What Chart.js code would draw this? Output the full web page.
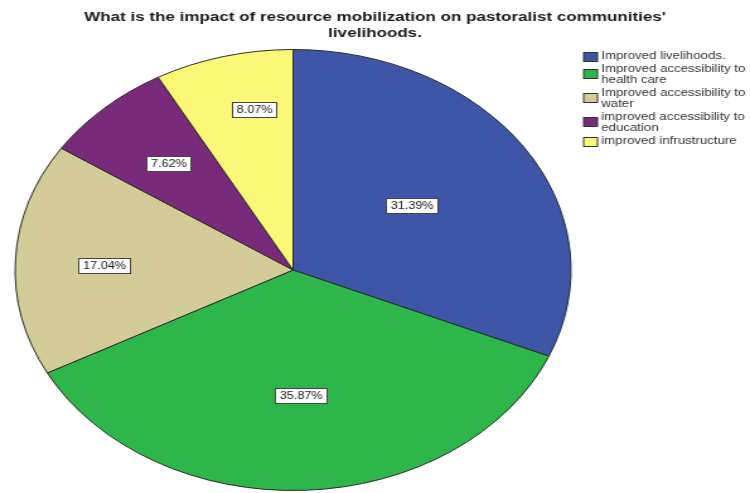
<!DOCTYPE html>
<html>
<head>
<meta charset="utf-8">
<script src="https://cdn.jsdelivr.net/npm/chart.js@4/dist/chart.umd.min.js"></script>
<style>
  html, body { margin: 0; padding: 0; background: #fff; overflow: hidden; }
  #wrap { width: 595px; height: 493px; transform-origin: 0 0; transform: scaleX(1.2605); }
</style>
</head>
<body>
<div id="wrap"><canvas id="chart" width="595" height="493"></canvas></div>
<script>
const categories = [
    ['Improved livelihoods.'],
    ['Improved accessibility to', 'health care'],
    ['Improved accessibility to', 'water'],
    ['improved accessibility to', 'education'],
    ['improved infrustructure']
];
const percents = [31.39, 35.87, 17.04, 7.62, 8.07];
const colors = ['#3d56a8', '#2db74a', '#d4cc98', '#7a2a7a', '#fcf877'];
// label placement: share of radius, and a small turn (degrees) off the slice middle
const labelDist = [0.517, 0.568, 0.68, 0.66, 0.74];
const labelTurn = [-1, -0.5, -1, 0, 3.6];

const FONT = '"Liberation Sans", Arial, sans-serif';
const LEGEND_SPACE = 130;

// keep the title centred on the full width, but leave room for the legend
const legendRoom = {
    id: 'legendRoom',
    afterLayout(chart) {
        chart.chartArea.right -= LEGEND_SPACE;
        chart.chartArea.width -= LEGEND_SPACE;
    }
};

// white boxed percentage labels
const boxLabels = {
    id: 'boxLabels',
    afterDatasetsDraw(chart) {
        const ctx = chart.ctx;
        const arcs = chart.getDatasetMeta(0).data;
        ctx.save();
        ctx.font = '10px ' + FONT;
        ctx.textAlign = 'center';
        ctx.textBaseline = 'middle';
        arcs.forEach(function(arc, i) {
            const p = arc.getProps(['x', 'y', 'startAngle', 'endAngle', 'outerRadius'], true);
            const mid = (p.startAngle + p.endAngle) / 2 + labelTurn[i] * Math.PI / 180;
            const r = p.outerRadius * labelDist[i];
            const x = p.x + Math.cos(mid) * r;
            const y = p.y + Math.sin(mid) * r;
            const text = percents[i].toFixed(2) + '%';
            const w = Math.round(ctx.measureText(text).width + 7);
            const h = 15;
            const bx = Math.round(x - w / 2) + 0.5;
            const by = Math.round(y - h / 2) + 0.5;
            ctx.fillStyle = '#ffffff';
            ctx.fillRect(bx, by, w, h);
            ctx.strokeStyle = '#444';
            ctx.lineWidth = 1;
            ctx.strokeRect(bx, by, w, h);
            ctx.fillStyle = '#222';
            ctx.fillText(text, bx + w / 2, by + h / 2 + 0.5);
        });
        ctx.restore();
    }
};

// legend on the right, multi-line entries
const sideLegend = {
    id: 'sideLegend',
    afterDraw(chart) {
        const ctx = chart.ctx;
        const labels = chart.data.labels;
        const bg = chart.data.datasets[0].backgroundColor;
        const left = chart.chartArea.right - 2;
        const lineH = 11;
        let y = 56;
        ctx.save();
        ctx.font = '10.5px ' + FONT;
        ctx.textAlign = 'left';
        ctx.textBaseline = 'middle';
        labels.forEach(function(lines, i) {
            const midY = y + (lines.length - 1) * lineH / 2 - (lines.length > 1 ? 1.5 : 0);
            const top = Math.round(midY - 4.5) + 0.5;
            ctx.fillStyle = bg[i];
            ctx.fillRect(left, top, 11, 9);
            ctx.strokeStyle = '#333';
            ctx.lineWidth = 1;
            ctx.strokeRect(left, top, 11, 9);
            ctx.fillStyle = '#333';
            lines.forEach(function(t, k) {
                ctx.fillText(t, left + 14, y + k * lineH);
            });
            y += lines.length * lineH + 2;
        });
        ctx.restore();
    }
};

new Chart(document.getElementById('chart'), {
    type: 'pie',
    data: {
        labels: categories,
        datasets: [{
            data: percents,
            backgroundColor: colors,
            borderColor: '#2a2a2a',
            borderWidth: 1
        }]
    },
    options: {
        responsive: false,
        animation: false,
        layout: { padding: { left: 0, right: 0, top: 0, bottom: 2 } },
        plugins: {
            title: {
                display: true,
                text: ["What is the impact of resource mobilization on pastoralist communities'", 'livelihoods.'],
                color: '#1a1a1a',
                font: { family: FONT, size: 13.5, weight: 'bold', lineHeight: 1.2 },
                padding: { top: 9, bottom: 7.6 }
            },
            legend: { display: false },
            tooltip: { enabled: false }
        }
    },
    plugins: [legendRoom, boxLabels, sideLegend]
});
</script>
</body>
</html>
